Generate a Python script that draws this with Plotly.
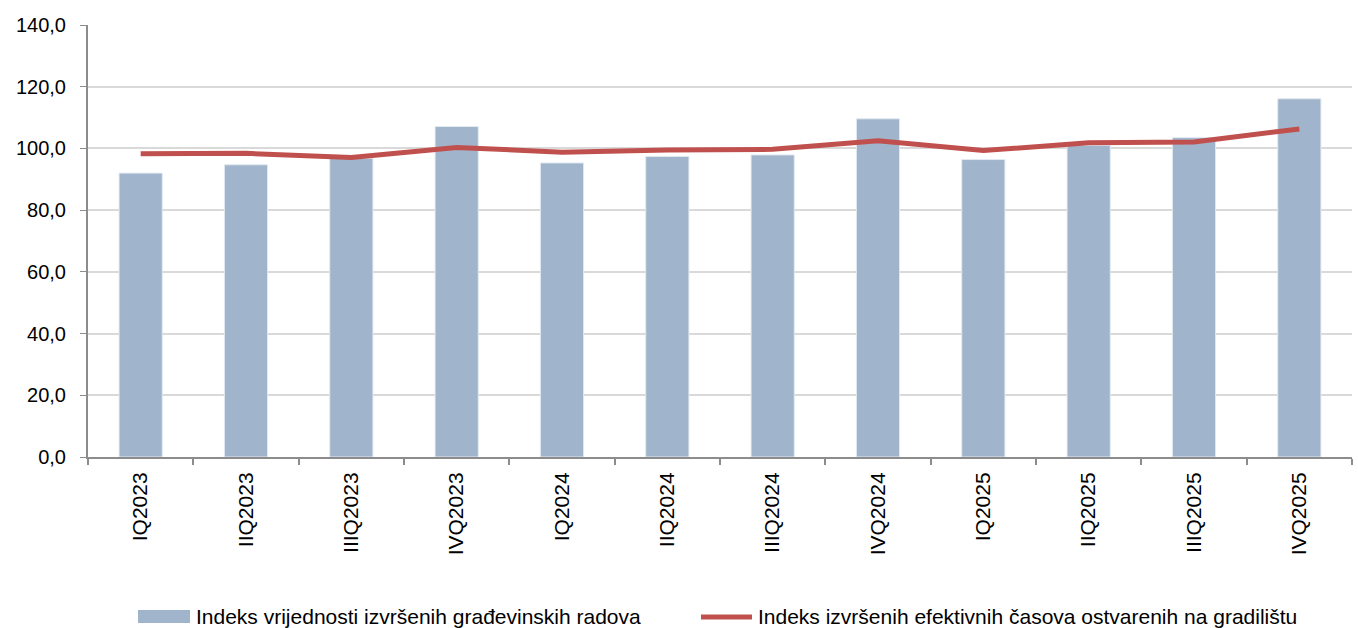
import plotly.graph_objects as go

categories = ["IQ2023", "IIQ2023", "IIIQ2023", "IVQ2023", "IQ2024", "IIQ2024",
              "IIIQ2024", "IVQ2024", "IQ2025", "IIQ2025", "IIIQ2025", "IVQ2025"]
vrijednost = [92.0, 94.7, 96.8, 107.1, 95.3, 97.4, 97.9, 109.6, 96.4, 101.0, 103.5, 116.1]
casovi = [98.3, 98.4, 97.1, 100.3, 98.8, 99.5, 99.7, 102.5, 99.3, 101.8, 102.1, 106.3]

name_bar = "Indeks vrijednosti izvršenih građevinskih radova"
name_line = "Indeks izvršenih efektivnih časova ostvarenih na gradilištu"

bar_color = "#A0B4CB"
line_color = "#C0504D"

fig = go.Figure()
fig.add_trace(go.Bar(
    x=categories, y=vrijednost, name=name_bar,
    marker=dict(color=bar_color, line=dict(color="#E3E9F1", width=1)),
    width=0.41,
))
fig.add_trace(go.Scatter(
    x=categories, y=casovi, name=name_line, mode="lines",
    line=dict(color=line_color, width=5),
))

W, H = 1358, 628
ML, MR, MT, MB = 88, 6, 25, 171
pw = W - ML - MR
ph = H - MT - MB


def px_x(v):
    return (v - ML) / pw


def px_y(v):
    return (H - MB - v) / ph


font = dict(family="Liberation Sans, Arial, sans-serif", size=20, color="#000000")

# legend drawn manually (swatches + text) to match the original placement
fig.add_shape(type="rect", xref="paper", yref="paper",
              x0=px_x(138), x1=px_x(190), y0=px_y(610), y1=px_y(623),
              fillcolor=bar_color, line=dict(width=0))
fig.add_annotation(text=name_bar, xref="paper", yref="paper",
                   x=px_x(194), y=px_y(616), xanchor="left", yanchor="middle",
                   showarrow=False, font=dict(size=21))
fig.add_shape(type="line", xref="paper", yref="paper",
              x0=px_x(701), x1=px_x(752), y0=px_y(617), y1=px_y(617),
              line=dict(color=line_color, width=5))
fig.add_annotation(text=name_line, xref="paper", yref="paper",
                   x=px_x(756), y=px_y(616), xanchor="left", yanchor="middle",
                   showarrow=False, font=dict(size=21))

fig.update_layout(
    width=W, height=H,
    margin=dict(l=ML, r=MR, t=MT, b=MB, pad=0),
    paper_bgcolor="white", plot_bgcolor="white",
    font=font,
    separators=", ",
    showlegend=False,
)
fig.update_xaxes(
    type="category", tickangle=-90, showline=True, linecolor="#8C8C8C", linewidth=2,
    ticks="outside", tickson="boundaries", ticklen=6, tickcolor="#8C8C8C", tickwidth=1.5,
    showgrid=False, tickfont=dict(size=21), range=[-0.5, 11.5], automargin=False,
    ticklabelstandoff=5,
)
fig.update_yaxes(
    range=[0, 140], dtick=20, tickformat=".1f", showline=True, linecolor="#8C8C8C",
    linewidth=2, ticks="outside", ticklen=6, tickcolor="#8C8C8C",
    showgrid=True, gridcolor="#D9D9D9", gridwidth=2, zeroline=False,
    tickfont=dict(size=20), automargin=False, ticklabelstandoff=10,
)

fig.write_html("out.html", config={"displayModeBar": False},
               post_script="document.body.style.margin='0';")
